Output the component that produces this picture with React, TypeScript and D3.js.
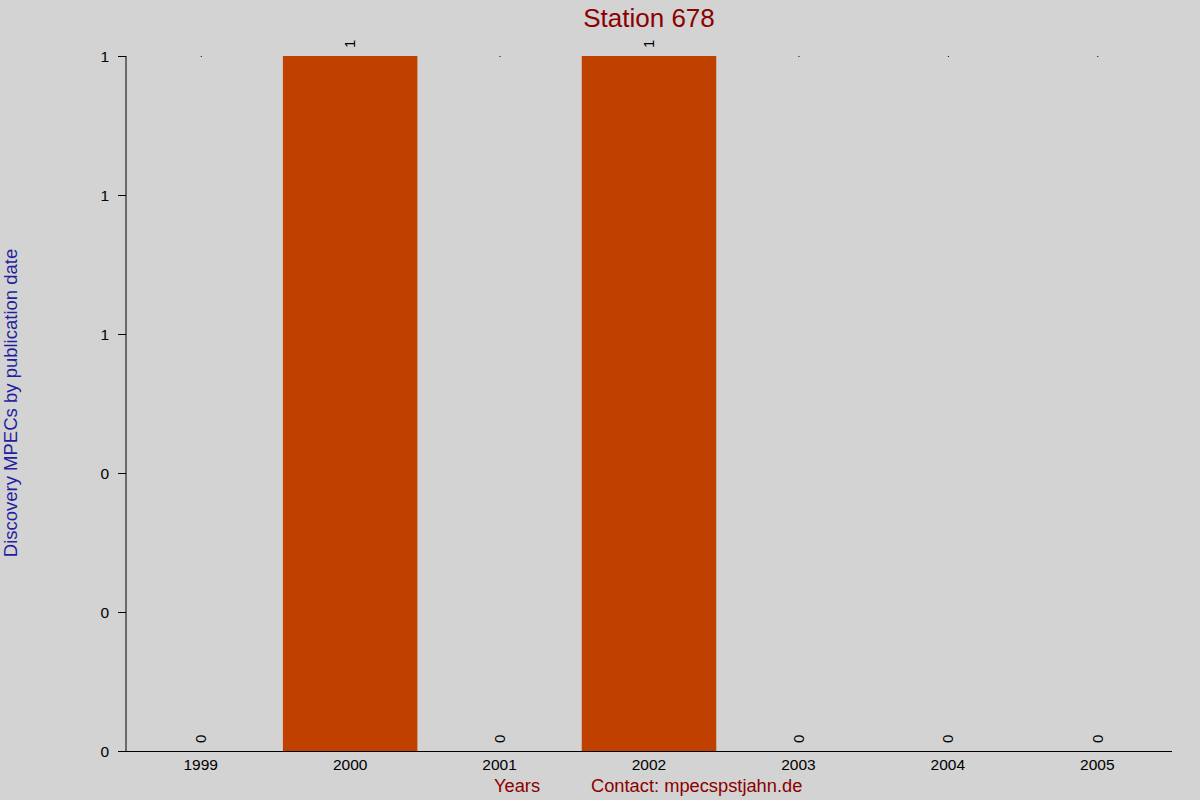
import React from "react";
import * as d3 from "d3";

const years = ["1999", "2000", "2001", "2002", "2003", "2004", "2005"];
const counts = [0, 1, 0, 1, 0, 0, 0];
const yTicks = [0, 0.2, 0.4, 0.6, 0.8, 1];
const title = "Station 678";
const yTitle = "Discovery MPECs by publication date";
const xTitle = "Years";
const contact = "Contact: mpecspstjahn.de";

const W = 1200;
const H = 800;
const left = 126;
const right = 1172;
const top = 56;
const bottom = 751;
const font = "'Liberation Sans', Arial, sans-serif";

export default function App() {
  const x = d3.scaleBand<string>().domain(years).range([left, right]).paddingInner(0.1).paddingOuter(0.05);
  const y = d3.scaleLinear().domain([0, 1]).range([bottom, top]);
  const fmt = d3.format(".0f");
  const step = (right - left) / years.length;
  const center = (yr: string) => left + step * (years.indexOf(yr) + 0.5);
  const bw = step * 0.9;

  return (
    <svg width={W} height={H} style={{ position: "absolute", left: 0, top: 0, display: "block" }} fontFamily={font}>
      <rect x={0} y={0} width={W} height={H} fill="#d3d3d3" />
      <text x={(left + right) / 2} y={27} textAnchor="middle" fontSize={26} fill="#8b0000">{title}</text>
      {years.map((yr, i) => {
        const cx = center(yr);
        const v = counts[i];
        return (
          <g key={yr}>
            {v > 0 && (
              <rect x={cx - bw / 2} y={y(v)} width={bw} height={y(0) - y(v)} fill="#c04000" />
            )}
            {v === 0 && <rect x={cx} y={top} width={1} height={1} fill="#000" />}
            <text
              transform={`translate(${cx},${y(v) - 8}) rotate(-90)`}
              dy="0.35em"
              fontSize={15}
              fill="#000"
              textAnchor="start"
            >
              {fmt(v)}
            </text>
            <text x={cx} y={770} textAnchor="middle" fontSize={15.5} fill="#000">{yr}</text>
          </g>
        );
      })}
      <line x1={left} x2={left} y1={top} y2={bottom} stroke="#000" strokeWidth={1} />
      <line x1={118} x2={right} y1={bottom + 0.5} y2={bottom + 0.5} stroke="#000" strokeWidth={1} />
      {yTicks.map((t) => (
        <g key={t}>
          <line x1={118} x2={left} y1={y(t) + 0.5} y2={y(t) + 0.5} stroke="#000" strokeWidth={1} />
          <text x={109} y={y(t) + 5.5} textAnchor="end" fontSize={15.5} fill="#000">{fmt(t)}</text>
        </g>
      ))}
      <text
        transform={`translate(17,403) rotate(-90)`}
        textAnchor="middle"
        fontSize={18.5}
        fill="#1f1f9f"
      >
        {yTitle}
      </text>
      <text x={494} y={792} fontSize={18.3} fill="#8b0000">{xTitle}</text>
      <text x={591} y={792} fontSize={18.3} fill="#8b0000">{contact}</text>
    </svg>
  );
}
